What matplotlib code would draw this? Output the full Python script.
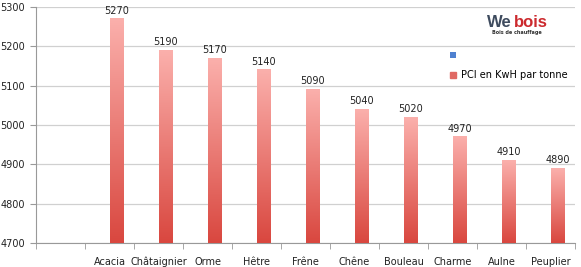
import numpy as np
import matplotlib.pyplot as plt
from matplotlib.colors import LinearSegmentedColormap

# data
categories = ["", "Acacia", "Châtaignier", "Orme", "Hêtre", "Frêne", "Chêne",
              "Bouleau", "Charme", "Aulne", "Peuplier"]
pci_values = [np.nan, 5270, 5190, 5170, 5140, 5090, 5040, 5020, 4970, 4910, 4890]
empty_values = [np.nan] * len(categories)
y_ticks = [4700, 4800, 4900, 5000, 5100, 5200, 5300]

fig = plt.figure(figsize=(5.81, 2.67), dpi=100)
ax = fig.add_axes([0.062, 0.09, 0.928, 0.884])

x = np.arange(len(categories))
w = 0.27
ax.bar(x - w / 2 + 0.02, empty_values, w, color="#4f81d0", label=" ")
bars = ax.bar(x + w / 2 + 0.01, pci_values, w, bottom=0, color="#e06a64",
              label="PCI en KwH par tonne", zorder=3)

# gradient fill of each bar
cmap = LinearSegmentedColormap.from_list("pink_red", ["#d9473f", "#fbb0ac"])
grad = np.linspace(0, 1, 256).reshape(-1, 1)
for b, v in zip(bars, pci_values):
    if np.isnan(v):
        continue
    b.set_alpha(0)
    x0 = b.get_x()
    ax.imshow(grad, cmap=cmap, origin="lower", aspect="auto", zorder=3,
              extent=(x0, x0 + b.get_width(), 4700, v))
    ax.text(x0 + b.get_width() / 2, v + 8, f"{v:.0f}", ha="center", va="bottom",
            fontsize=7, color="#222222")
ax.set_xlim(-0.5, len(categories) - 0.5)
ax.set_ylim(4700, 5300)

# axes styling
ax.set_yticks(y_ticks)
ax.set_yticklabels([str(t) for t in y_ticks], fontsize=7, color="#222222")
ax.set_xticks(x)
ax.set_xticklabels(categories, fontsize=7, color="#222222")
ax.set_xticks(np.arange(len(categories) + 1) - 0.5, minor=True)
ax.tick_params(axis="x", which="major", length=0, pad=10)
ax.tick_params(axis="x", which="minor", length=4, color="#999999")
ax.tick_params(axis="y", length=4, color="#999999", pad=4)
ax.grid(axis="y", color="#d0d0d0", linewidth=0.9, zorder=0)
ax.set_axisbelow(True)
for side in ["top", "right"]:
    ax.spines[side].set_visible(False)
for side in ["left", "bottom"]:
    ax.spines[side].set_color("#999999")
    ax.spines[side].set_linewidth(0.8)

# legend
leg = ax.legend(loc="upper left", bbox_to_anchor=(0.755, 0.845), frameon=True,
                fontsize=7, handlelength=0.6, handleheight=0.6,
                handletextpad=0.5, labelspacing=1.0, borderpad=0.2)
leg.get_frame().set_edgecolor("white")
leg.get_frame().set_facecolor("white")
leg.get_frame().set_alpha(1)
for h in leg.legend_handles:
    h.set_alpha(1)
leg.legend_handles[1].set_color("#e06a64")

# logo
fig.text(0.838, 0.899, "We", fontsize=12, color="#3e4b5e", ha="left", va="baseline",
         fontweight="bold", family="Liberation Sans")
fig.text(0.884, 0.899, "bois", fontsize=12, color="#cc2a2e", ha="left", va="baseline",
         fontweight="bold", family="Liberation Sans")
fig.text(0.89, 0.874, "Bois de chauffage", fontsize=3.5, color="#333333",
         ha="center", va="baseline", fontweight="bold")

fig.savefig("out.png", dpi=100, facecolor="white")
